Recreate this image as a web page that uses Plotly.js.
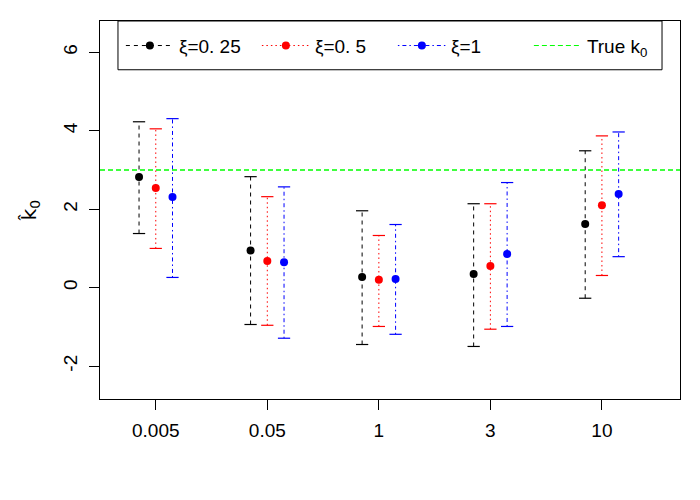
<!DOCTYPE html>
<html>
<head>
<meta charset="utf-8">
<script src="https://cdn.plot.ly/plotly-3.0.1.min.js"></script>
<style>html,body{margin:0;padding:0;background:#fff;}#chart{width:700px;height:500px;}</style>
</head>
<body>
<div id="chart"></div>
<script>
// ---- data ----
const categories = ["0.005", "0.05", "1", "3", "10"];
const seriesNames = ["ξ=0. 25", "ξ=0. 5", "ξ=1"];
const est025 = [2.82, 0.95, 0.27, 0.35, 1.62];
const lo025  = [1.38, -0.94, -1.45, -1.50, -0.27];
const hi025  = [4.23, 2.83, 1.96, 2.14, 3.49];
const est05  = [2.54, 0.68, 0.20, 0.55, 2.10];
const lo05   = [1.00, -0.96, -0.99, -1.06, 0.31];
const hi05   = [4.05, 2.32, 1.33, 2.14, 3.87];
const est1   = [2.31, 0.65, 0.22, 0.86, 2.39];
const lo1    = [0.26, -1.29, -1.19, -0.99, 0.79];
const hi1    = [4.31, 2.57, 1.61, 2.68, 3.97];
const trueK0 = 3;
const yTicks = [-2, 0, 2, 4, 6];

// ---- styling ----
const FONT = "'Liberation Sans', Arial, sans-serif";
const styles = [
  {color: "#000000", dash: "4px,4px", offset: -0.15},
  {color: "#FF0000", dash: "1.5px,3px", offset: 0},
  {color: "#0000FF", dash: "1.5px,3px,4px,3px", offset: 0.15}
];
const greenDash = "5px,3px";
const capHalf = 0.055;
const series = [
  {est: est025, lo: lo025, hi: hi025},
  {est: est05, lo: lo05, hi: hi05},
  {est: est1, lo: lo1, hi: hi1}
];
const pos = categories.map((c, i) => i + 1);

const traces = [];
series.forEach((s, k) => {
  const st = styles[k];
  const xs = pos.map(p => p + st.offset);
  const vx = [], vy = [];
  xs.forEach((x, i) => { vx.push(x, x, null); vy.push(s.lo[i], s.hi[i], null); });
  traces.push({x: vx, y: vy, mode: "lines", line: {color: st.color, dash: st.dash, width: 1}, showlegend: false, hoverinfo: "skip"});
  const cx = [], cy = [];
  xs.forEach((x, i) => {
    cx.push(x - capHalf, x + capHalf, null); cy.push(s.lo[i], s.lo[i], null);
    cx.push(x - capHalf, x + capHalf, null); cy.push(s.hi[i], s.hi[i], null);
  });
  traces.push({x: cx, y: cy, mode: "lines", line: {color: st.color, width: 1.2}, showlegend: false, hoverinfo: "skip"});
  traces.push({x: xs, y: s.est, mode: "markers", marker: {color: st.color, size: 8, symbol: "circle"}, showlegend: false});
});
series.forEach((s, k) => {
  const st = styles[k];
  traces.push({x: [null], y: [null], mode: "lines+markers", name: seriesNames[k],
    line: {color: st.color, dash: st.dash, width: 1}, marker: {color: st.color, size: 8}});
});
traces.push({x: [null], y: [null], mode: "lines", name: "True k<sub>0</sub>",
  line: {color: "#00FF00", dash: greenDash, width: 1}});

const layout = {
  width: 700, height: 500,
  margin: {l: 100, r: 20, t: 21, b: 101},
  paper_bgcolor: "#fff", plot_bgcolor: "#fff",
  font: {family: FONT, size: 19, color: "#000"},
  xaxis: {
    range: [0.5, 5.7], tickvals: pos, ticktext: categories,
    ticks: "outside", ticklen: 10, tickcolor: "#000", ticklabelstandoff: 4,
    showline: true, mirror: true, linecolor: "#000", linewidth: 1,
    showgrid: false, zeroline: false, tickfont: {size: 19}
  },
  yaxis: {
    range: [-2.84, 6.80], tickvals: yTicks, ticktext: yTicks.map(String),
    tickangle: -90, ticks: "outside", ticklen: 10, tickcolor: "#000", ticklabelstandoff: 4,
    showline: true, mirror: true, linecolor: "#000", linewidth: 1,
    showgrid: false, zeroline: false, tickfont: {size: 19},
    title: {text: "k\u0302<sub>0</sub>", font: {size: 20, family: "'DejaVu Sans', sans-serif"}, standoff: 18}
  },
  shapes: [
    {type: "line", xref: "paper", x0: 0, x1: 1, yref: "y", y0: trueK0, y1: trueK0,
     line: {color: "#00FF00", dash: greenDash, width: 1.3}},
    {type: "rect", xref: "paper", yref: "paper", x0: 0.031, x1: 0.969, y0: 0.871, y1: 1,
     line: {color: "#000", width: 1}, fillcolor: "rgba(0,0,0,0)"}
  ],
  legend: {
    orientation: "h", x: 0.036, xanchor: "left", y: 0.985, yanchor: "top",
    bgcolor: "rgba(0,0,0,0)", borderwidth: 0, itemwidth: 48, entrywidth: 73, entrywidthmode: "pixels",
    font: {size: 19}, valign: "middle"
  },
  showlegend: true
};
Plotly.newPlot("chart", traces, layout, {displayModeBar: false, staticPlot: true});
</script>
</body>
</html>
